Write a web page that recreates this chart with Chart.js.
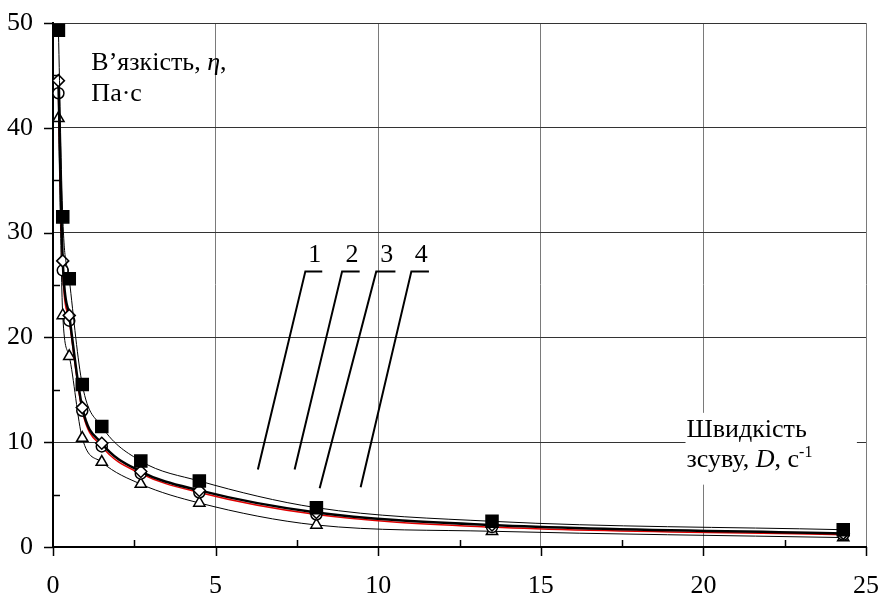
<!DOCTYPE html>
<html>
<head>
<meta charset="utf-8">
<script src="https://cdn.jsdelivr.net/npm/chart.js@4/dist/chart.umd.min.js"></script>
<style>
  html, body { margin: 0; padding: 0; background: #fff; }
</style>
</head>
<body>
<canvas id="myChart" width="879" height="597"></canvas>
<script>
{
  'use strict';

  /* Data */
  const shearRates = [0.1667, 0.3, 0.5, 0.9, 1.5, 2.7, 4.5, 8.1, 13.5, 24.3];
  const viscosity1 = [49.3, 31.5, 25.6, 15.5, 11.5, 8.2, 6.3, 3.75, 2.45, 1.65];
  const viscosity2 = [44.5, 27.3, 22.1, 13.3, 9.9, 7.2, 5.4, 3.3, 2.1, 1.3];
  const viscosity3 = [43.3, 26.4, 21.6, 13.0, 9.6, 7.0, 5.2, 3.1, 1.9, 1.17];
  const viscosity4 = [40.9, 22.1, 18.2, 10.4, 8.1, 6.0, 4.2, 2.1, 1.5, 0.9];
  const curveLabels = ['1', '2', '3', '4'];
  const xTicks = [0, 5, 10, 15, 20, 25];
  const yTicks = [0, 10, 20, 30, 40, 50];

  /* Leader lines for curve numbers (data units): top-left corner, end of shelf, foot */
  const leaders = [
    { top: [7.76, 26.3], end: 8.28, foot: [6.30, 7.4] },
    { top: [8.89, 26.3], end: 9.43, foot: [7.43, 7.4] },
    { top: [9.94, 26.3], end: 10.53, foot: [8.20, 5.6] },
    { top: [11.02, 26.3], end: 11.56, foot: [9.46, 5.7] }
  ];

  const serif = '"Liberation Serif", "Times New Roman", serif';
  const fontSize = 26;

  function toPoints(ys) {
    return shearRates.map(function (x, i) {
      return { x: x, y: ys[i] };
    });
  }

  /* Extras: minor ticks, title boxes, curve numbers */
  const extras = {
    id: 'extras',
    beforeDatasetsDraw: function (chart) {
      const ctx = chart.ctx;
      const sx = chart.scales.x;
      const sy = chart.scales.y;
      ctx.save();
      ctx.fillStyle = '#fff';
      // box behind x title
      const bx0 = sx.getPixelForValue(19.45), bx1 = sx.getPixelForValue(24.72);
      const by0 = sy.getPixelForValue(12.8), by1 = sy.getPixelForValue(5.95);
      ctx.fillRect(bx0, by0, bx1 - bx0, by1 - by0);
      ctx.restore();
    },
    afterDraw: function (chart) {
      const ctx = chart.ctx;
      const sx = chart.scales.x;
      const sy = chart.scales.y;
      const area = chart.chartArea;
      ctx.save();

      // ticks
      ctx.strokeStyle = '#000';
      ctx.lineWidth = 1.5;
      ctx.beginPath();
      for (let v = 0; v <= 25; v += 2.5) {
        const px = Math.round(sx.getPixelForValue(v)) + 0.5;
        if (v % 5 === 0) {
          ctx.moveTo(px, area.bottom);
          ctx.lineTo(px, area.bottom + 9);
        } else {
          ctx.moveTo(px, area.bottom);
          ctx.lineTo(px, area.bottom - 7);
        }
      }
      for (let v = 0; v <= 50; v += 5) {
        const py = Math.round(sy.getPixelForValue(v)) + 0.5;
        if (v % 10 === 0) {
          ctx.moveTo(area.left, py);
          ctx.lineTo(area.left - 9, py);
        } else {
          ctx.moveTo(area.left, py);
          ctx.lineTo(area.left + 7, py);
        }
      }
      ctx.stroke();

      // leader lines
      ctx.lineWidth = 2;
      ctx.beginPath();
      leaders.forEach(function (l) {
        ctx.moveTo(sx.getPixelForValue(l.end), sy.getPixelForValue(l.top[1]));
        ctx.lineTo(sx.getPixelForValue(l.top[0]), sy.getPixelForValue(l.top[1]));
        ctx.lineTo(sx.getPixelForValue(l.foot[0]), sy.getPixelForValue(l.foot[1]));
      });
      ctx.stroke();

      // curve numbers
      ctx.fillStyle = '#000';
      ctx.font = fontSize + 'px ' + serif;
      ctx.textAlign = 'center';
      ctx.textBaseline = 'alphabetic';
      leaders.forEach(function (l, i) {
        const cx = (sx.getPixelForValue(l.top[0]) + sx.getPixelForValue(l.end)) / 2;
        ctx.fillText(curveLabels[i], cx + 1, sy.getPixelForValue(l.top[1]) - 9);
      });

      // axis titles
      ctx.textAlign = 'left';
      function runs(parts, x, y) {
        parts.forEach(function (p) {
          ctx.font = (p.italic ? 'italic ' : '') + (p.size || fontSize) + 'px ' + serif;
          ctx.fillText(p.text, x, y - (p.rise || 0));
          x += ctx.measureText(p.text).width;
        });
      }
      const yx = sx.getPixelForValue(1.18);
      runs([{ text: 'В’язкість, ' }, { text: 'η', italic: true }, { text: ',' }], yx, sy.getPixelForValue(45.5));
      runs([{ text: 'Па·с' }], yx, sy.getPixelForValue(42.55));

      const xx = sx.getPixelForValue(19.48);
      runs([{ text: 'Швидкість' }], xx, sy.getPixelForValue(10.54));
      runs([
        { text: 'зсуву, ' },
        { text: 'D', italic: true },
        { text: ', с' },
        { text: '-1', size: 16, rise: 10 }
      ], xx, sy.getPixelForValue(7.68));

      ctx.restore();
    }
  };

  function initChart() {
    const ctx = document.getElementById('myChart').getContext('2d');

    const pointBase = {
      showLine: true,
      cubicInterpolationMode: 'monotone',
      pointBorderColor: '#000',
      pointBorderWidth: 1.5,
      pointBackgroundColor: '#fff'
    };

    // eslint-disable-next-line no-undef
    new Chart(ctx, {
      type: 'scatter',
      data: {
        datasets: [
          Object.assign({}, pointBase, {
            label: '1',
            data: toPoints(viscosity1),
            borderColor: '#000',
            borderWidth: 1,
            pointStyle: 'rect',
            pointRadius: 8.5,
            pointBackgroundColor: '#000'
          }),
          Object.assign({}, pointBase, {
            label: '2',
            data: toPoints(viscosity2),
            borderColor: '#000',
            borderWidth: 2.5,
            pointStyle: 'rectRot',
            pointRadius: 6
          }),
          Object.assign({}, pointBase, {
            label: '3',
            data: toPoints(viscosity3),
            borderColor: '#e00000',
            borderWidth: 1.5,
            pointStyle: 'circle',
            pointRadius: 5.5
          }),
          Object.assign({}, pointBase, {
            label: '4',
            data: toPoints(viscosity4),
            borderColor: '#000',
            borderWidth: 1,
            pointStyle: 'triangle',
            pointRadius: 6.5
          })
        ]
      },
      options: {
        responsive: false,
        animation: false,
        layout: { padding: { top: 23, right: 13, left: 0, bottom: 0 } },
        plugins: {
          legend: { display: false },
          tooltip: { enabled: false }
        },
        scales: {
          x: {
            type: 'linear',
            min: 0,
            max: 25,
            afterBuildTicks: function (s) {
              s.ticks = xTicks.map(function (v) { return { value: v }; });
            },
            afterFit: function (s) {
              s.height = 50;
              s.paddingLeft = 0;
              s.paddingRight = 0;
            },
            grid: {
              color: function (c) { return c.tick && c.tick.value === 0 ? 'rgba(0,0,0,0)' : '#7a7a7a'; },
              lineWidth: 1,
              drawTicks: false
            },
            border: { color: '#000', width: 2 },
            ticks: {
              color: '#000',
              font: { family: serif, size: fontSize },
              padding: 24,
              maxRotation: 0
            }
          },
          y: {
            type: 'linear',
            min: 0,
            max: 50,
            afterBuildTicks: function (s) {
              s.ticks = yTicks.map(function (v) { return { value: v }; });
            },
            afterFit: function (s) {
              s.width = 53;
              s.paddingTop = 0;
              s.paddingBottom = 0;
            },
            grid: {
              color: function (c) { return c.tick && c.tick.value === 0 ? 'rgba(0,0,0,0)' : '#333'; },
              lineWidth: 1,
              drawTicks: false
            },
            border: { color: '#000', width: 2 },
            ticks: {
              color: '#000',
              font: { family: serif, size: fontSize },
              padding: 20
            }
          }
        }
      },
      plugins: [extras]
    });
  }

  const app = function () {
    initChart();
  };

  app();
}
</script>
</body>
</html>
